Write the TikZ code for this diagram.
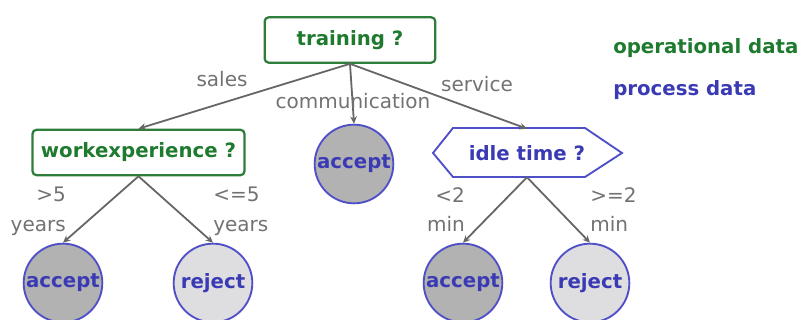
\documentclass[tikz,border=0pt]{standalone}
\usepackage{fontspec}
\setmainfont{DejaVu Sans}
\usetikzlibrary{shapes.geometric,arrows.meta}
\definecolor{opgreen}{HTML}{1E7A2E}
\definecolor{opframe}{HTML}{2F7D3A}
\definecolor{prblue}{HTML}{3A3AB4}
\definecolor{prframe}{HTML}{4F4FC8}
\definecolor{edgegray}{HTML}{666666}
\definecolor{labgray}{HTML}{727272}
\definecolor{darkfill}{HTML}{B2B2B2}
\definecolor{lightfill}{HTML}{DEDEE0}
\tikzset{
  boldtxt/.style={font=\fontsize{14.8}{16}\selectfont\bfseries},
  opbox/.style={draw=opframe, line width=1.7pt, rounded corners=3pt, fill=white,
    text=opgreen, boldtxt, inner sep=0pt},
  leaf/.style={circle, draw=prframe, line width=1.4pt, minimum size=59pt, inner sep=0pt,
    text=prblue, boldtxt},
  acceptleaf/.style={leaf, fill=darkfill},
  rejectleaf/.style={leaf, fill=lightfill},
  branch/.style={draw=edgegray, line width=1.35pt, -{Stealth[length=5.5pt,width=5pt]}},
  edgelab/.style={text=labgray, font=\fontsize{15}{17}\selectfont, inner sep=0pt},
  legendtxt/.style={boldtxt, anchor=west, inner sep=0pt}
}
\begin{document}
\begin{tikzpicture}[x=0.75pt, y=-0.75pt]
\useasboundingbox (0,0) rectangle (803,320);

% decision nodes
\node[opbox, minimum width=128pt, minimum height=34pt] (train) at (350,40) {training ?};
\node[opbox, minimum width=159pt, minimum height=34pt] (work) at (138.5,152.5) {workexperience ?};
\draw[prframe, line width=1.4pt, fill=white]
  (433,153) -- (453,128) -- (585,128) -- (622,153) -- (585,177) -- (453,177) -- cycle;
\node[text=prblue, boldtxt, minimum width=132pt, minimum height=36pt, inner sep=0pt] (idle) at (527,153) {idle time ?};

% leaves
\node[acceptleaf] (acc1) at (354,164) {accept};
\node[acceptleaf] (acc2) at (63,283) {accept};
\node[rejectleaf] (rej1) at (213,283) {reject};
\node[acceptleaf] (acc3) at (463,283) {accept};
\node[rejectleaf] (rej2) at (590,283) {reject};

% branches
\draw[branch] (train.south) -- (work.north);
\draw[branch] (train.south) -- (acc1.north);
\draw[branch] (train.south) -- (idle.north);
\draw[branch] (work.south) -- (acc2.north);
\draw[branch] (work.south) -- (rej1.north);
\draw[branch] (idle.south) -- (acc3.north);
\draw[branch] (idle.south) -- (rej2.north);

% branch labels
\node[edgelab] (lsales) at (222,79) {sales};
\node[edgelab] (lcomm) at (353,101) {communication};
\node[edgelab] (lserv) at (477,84) {service};
\node[edgelab, align=right, anchor=north east] (lgt5) at (66,187) {>5\\[5pt]years};
\node[edgelab, align=left, anchor=north west] (lle5) at (213,187) {<=5\\[5pt]years};
\node[edgelab, align=right, anchor=north east] (llt2) at (465,187) {<2\\[5pt]min};
\node[edgelab, align=left, anchor=north west] (lge2) at (590,187) {>=2\\[5pt]min};

% legend
\node[legendtxt, text=opgreen] (legop) at (613,48) {operational data};
\node[legendtxt, text=prblue] (legpr) at (613,90) {process data};
\end{tikzpicture}
\end{document}
